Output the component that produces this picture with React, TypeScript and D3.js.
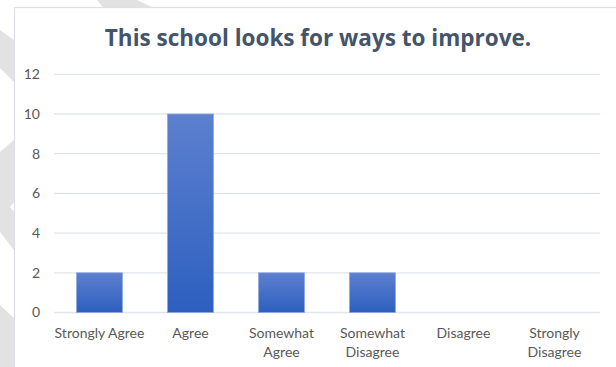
import React from "react";
import * as d3 from "d3";

const title = "This school looks for ways to improve.";
const categories = ["Strongly Agree", "Agree", "Somewhat Agree", "Somewhat Disagree", "Disagree", "Strongly Disagree"];
const categoryLines = [["Strongly Agree"], ["Agree"], ["Somewhat", "Agree"], ["Somewhat", "Disagree"], ["Disagree"], ["Strongly", "Disagree"]];
const values = [2, 10, 2, 2, 0, 0];
const yTicks = [0, 2, 4, 6, 8, 10, 12];

const W = 616;
const H = 367;

export default function App() {
  const x = d3.scaleBand<string>().domain(categories).range([54, 600]).paddingInner(0.495).paddingOuter(0.2475);
  const y = d3.scaleLinear().domain([0, 12]).range([312.5, 74.3]);
  const font = "Lato, 'Open Sans', sans-serif";
  return (
    <svg width={W} height={H} style={{ position: "absolute", left: 0, top: 0 }}>
      <defs>
        <linearGradient id="barGrad" x1="0" y1="0" x2="0" y2="1">
          <stop offset="0" stopColor="#5d80cf" />
          <stop offset="1" stopColor="#2d5fbf" />
        </linearGradient>
      </defs>
      <rect x={0} y={0} width={W} height={H} fill="#ffffff" />
      {/* background decoration */}
      <polygon points="97,0 137,0 153,7.5 103,7.5" fill="#e2e2e2" />
      <polygon points="0,30 14,40 14,82 0,68" fill="#e2e2e2" />
      <polygon points="0,152 14,140 14,202 10,207 14,212 14,250 0,232" fill="#e2e2e2" />
      <polygon points="0,305 14,318 14,367 0,367" fill="#e2e2e2" />
      {/* chart frame */}
      <rect x={14.5} y={7.5} width={W} height={H} fill="#ffffff" stroke="#dde1e7" strokeWidth={1.2} />
      <text x={318} y={45.5} textAnchor="middle" fontFamily="'Open Sans', sans-serif" fontWeight={700} fontSize={22.5} fill="#44546a">{title}</text>
      {yTicks.map((t) => (
        <g key={t}>
          <line x1={54} x2={600} y1={y(t)} y2={y(t)} stroke="#e1e5ea" strokeWidth={1.3} />
          <text x={40} y={y(t)} dy="0.35em" textAnchor="end" fontFamily={font} fontSize={14} fill="#595959">{t}</text>
        </g>
      ))}
      {categories.map((c, i) => (
        values[i] > 0 ? (
          <rect key={c} x={x(c)} y={y(values[i])} width={x.bandwidth()} height={y(0) - y(values[i])} fill="url(#barGrad)" stroke="#8ea8e0" strokeWidth={0.8} />
        ) : null
      ))}
      {categories.map((c, i) => (
        <text key={c} x={(x(c) as number) + x.bandwidth() / 2} y={338} textAnchor="middle" fontFamily={font} fontSize={14} fill="#595959">
          {categoryLines[i].map((l, j) => (
            <tspan key={j} x={(x(c) as number) + x.bandwidth() / 2} dy={j === 0 ? 0 : 18.5}>{l}</tspan>
          ))}
        </text>
      ))}
    </svg>
  );
}
